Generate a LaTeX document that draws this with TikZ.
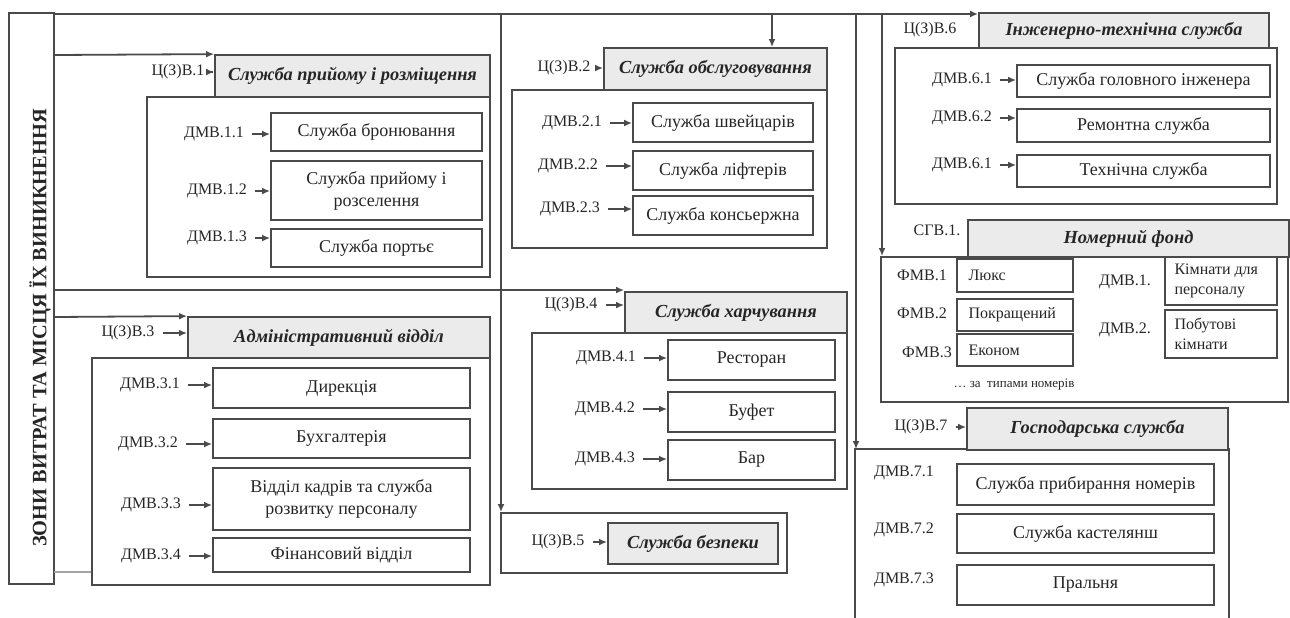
\documentclass[tikz,border=0pt]{standalone}
\usepackage{fontspec}
\setmainfont{Liberation Serif}
\usetikzlibrary{arrows.meta}
\definecolor{linec}{HTML}{4A4A4A}
\definecolor{textc}{HTML}{262626}
\definecolor{hdrc}{HTML}{EBEBEB}
\tikzset{
  box/.style = {draw=linec, line width=0.9pt, inner sep=0pt, align=center,
    text=textc, font=\fontsize{9}{11}\selectfont},% box of a place
  hdr/.style = {box, fill=hdrc,
    font=\fontsize{9.2}{11}\selectfont\bfseries\itshape},% header of a zone
  outer/.style = {draw=linec, line width=0.9pt, inner sep=0pt},
  lbl/.style = {text=textc, inner sep=1pt, font=\fontsize{8}{10}\selectfont},
  conn/.style = {draw=linec, line width=0.9pt, -{Latex[length=4pt,width=3.4pt]}},
  tick/.style = {conn, shorten <=3pt}
}
% box from corner (x1,y1) to corner (x2,y2), in pixels
\newcommand{\bx}[7]{%
  \node[#1, minimum width={(#5-#3)*0.5pt}, minimum height={(#6-#4)*0.5pt}]
    (#2) at ({(#3+#5)/2},{(#4+#6)/2}) {#7};}

\begin{document}
\begin{tikzpicture}[x=0.5pt,y=-0.5pt]
\useasboundingbox (0,0) rectangle (1290,617);

% zones
\bx{outer}{zone}{9}{13}{54}{584}{}
\node[rotate=90, text=textc, font=\fontsize{10.2}{12}\selectfont\bfseries]
  (zonetxt) at (40,328) {ЗОНИ ВИТРАТ ТА МІСЦЯ ЇХ ВИНИКНЕННЯ};

% 1
\bx{outer}{o1}{147}{97}{490}{277}{}
\bx{hdr}{h1}{215}{55}{490}{97}{Служба прийому і розміщення}
\bx{box}{b11}{271}{113}{482}{151}{Служба бронювання}
\bx{box}{b12}{271}{161}{482}{220}{Служба прийому і\\розселення}
\bx{box}{b13}{271}{229}{482}{267}{Служба портьє}
\node[lbl] (c1) at (178,72) {Ц(З)В.1};
\node[lbl] (l11) at (214,134) {ДМВ.1.1};
\node[lbl] (l12) at (217,191) {ДМВ.1.2};
\node[lbl] (l13) at (217,238) {ДМВ.1.3};

% 2
\bx{outer}{o2}{512}{90}{827}{248}{}
\bx{hdr}{h2}{604}{48}{827}{90}{Служба обслуговування}
\bx{box}{b21}{633}{103}{813}{142}{Служба швейцарів}
\bx{box}{b22}{633}{151}{813}{190}{Служба ліфтерів}
\bx{box}{b23}{633}{196}{813}{235}{Служба консьержна}
\node[lbl] (c2) at (564,68) {Ц(З)В.2};
\node[lbl] (l21) at (572,123) {ДМВ.2.1};
\node[lbl] (l22) at (568,166) {ДМВ.2.2};
\node[lbl] (l23) at (570,209) {ДМВ.2.3};

% 3
\bx{outer}{o3}{92}{358}{490}{585}{}
\bx{hdr}{h3}{188}{317}{490}{358}{Адміністративний відділ}
\bx{box}{b31}{213}{368}{470}{408}{Дирекція}
\bx{box}{b32}{213}{419}{470}{458}{Бухгалтерія}
\bx{box}{b33}{213}{468}{470}{530}{Відділ кадрів та служба\\розвитку персоналу}
\bx{box}{b34}{213}{538}{470}{572}{Фінансовий відділ}
\node[lbl] (c3) at (128,333) {Ц(З)В.3};
\node[lbl] (l31) at (150,385) {ДМВ.3.1};
\node[lbl] (l32) at (148,444) {ДМВ.3.2};
\node[lbl] (l33) at (151,505) {ДМВ.3.3};
\node[lbl] (l34) at (151,556) {ДМВ.3.4};

% 4
\bx{outer}{o4}{532}{333}{847}{489}{}
\bx{hdr}{h4}{625}{292}{847}{333}{Служба харчування}
\bx{box}{b41}{668}{340}{835}{380}{Ресторан}
\bx{box}{b42}{668}{392}{835}{432}{Буфет}
\bx{box}{b43}{668}{440}{835}{480}{Бар}
\node[lbl] (c4) at (571,305) {Ц(З)В.4};
\node[lbl] (l41) at (606,358) {ДМВ.4.1};
\node[lbl] (l42) at (605,409) {ДМВ.4.2};
\node[lbl] (l43) at (605,459) {ДМВ.4.3};

% 5
\bx{outer}{o5}{501}{513}{787}{573}{}
\bx{hdr}{h5}{608}{523}{778}{564}{Служба безпеки}
\node[lbl] (c5) at (558,542) {Ц(З)В.5};

% 6
\bx{outer}{o6}{895}{48}{1277}{204}{}
\bx{hdr}{h6}{979}{13}{1269}{48}{Інженерно-технічна служба}
\bx{box}{b61}{1017}{65}{1270}{97}{Служба головного інженера}
\bx{box}{b62}{1017}{109}{1270}{142}{Ремонтна служба}
\bx{box}{b63}{1017}{155}{1270}{187}{Технічна служба}
\node[lbl] (c6) at (930,30) {Ц(З)В.6};
\node[lbl] (l61) at (962,80) {ДМВ.6.1};
\node[lbl] (l62) at (962,118) {ДМВ.6.2};
\node[lbl] (l63) at (962,165) {ДМВ.6.1};

% room stock
\bx{outer}{of}{881}{257}{1288}{402}{}
\bx{hdr}{hf}{968}{220}{1289}{257}{Номерний фонд}
\bx{box}{f1}{957}{259}{1073}{292}{}
\bx{box}{f2}{957}{299}{1073}{331}{}
\bx{box}{f3}{957}{334}{1073}{366}{}
\node[lbl, anchor=west] (t1) at ([xshift=5pt]f1.west) {Люкс};
\node[lbl, anchor=west] (t2) at ([xshift=5pt]f2.west) {Покращений};
\node[lbl, anchor=west] (t3) at ([xshift=5pt]f3.west) {Економ};
\bx{box}{d1}{1165}{257}{1277}{305}{}
\bx{box}{d2}{1165}{310}{1277}{358}{}
\node[lbl, anchor=west, align=left] (td1) at ([xshift=4pt]d1.west) {Кімнати для\\персоналу};
\node[lbl, anchor=west, align=left] (td2) at ([xshift=4pt]d2.west) {Побутові\\кімнати};
\node[lbl] (cf) at (937,230) {СГВ.1.};
\node[lbl] (lf1) at (922,275) {ФМВ.1};
\node[lbl] (lf2) at (922,313) {ФМВ.2};
\node[lbl] (lf3) at (927,352) {ФМВ.3};
\node[lbl] (ld1) at (1125,282) {ДМВ.1.};
\node[lbl] (ld2) at (1125,330) {ДМВ.2.};
\node[lbl, font=\fontsize{6.5}{8}\selectfont] (note) at (1014,385) {\dots\ за \ типами номерів};

% 7
\bx{outer, draw=none}{o7}{856}{450}{1228}{625}{}
\draw[draw=linec, line width=0.9pt] (o7.south west) -- (o7.north west)
  -- (o7.north east) -- (o7.south east);
\bx{hdr}{h7}{967}{408}{1228}{450}{Господарська служба}
\bx{box}{b71}{957}{464}{1214}{505}{Служба прибирання номерів}
\bx{box}{b72}{957}{514}{1214}{553}{Служба кастелянш}
\bx{box}{b73}{957}{565}{1214}{605}{Пральня}
\node[lbl] (c7) at (921,427) {Ц(З)В.7};
\node[lbl] (l71) at (904,473) {ДМВ.7.1};
\node[lbl] (l72) at (904,530) {ДМВ.7.2};
\node[lbl] (l73) at (904,580) {ДМВ.7.3};

% main lines
\coordinate (j0) at (54,14);
\coordinate (j1) at (54,55);
\coordinate (j4) at (54,290);
\coordinate (j3) at (54,317);
\coordinate (j9) at (54,572);
\coordinate (v5) at (501,14);
\coordinate (v2) at (772,14);
\coordinate (v7) at (856,14);
\coordinate (vf) at (882,14);
\draw[conn] (j0) -- (h6.west |- j0);
\draw[conn] (j1) -- (h1.north west);
\draw[conn] (j4) -- (h4.west |- j4);
\draw[conn] (j3) -- (h3.north west);
\draw[draw=linec!50, line width=0.6pt] (j9) -- (o3.west |- j9);
\draw[conn] (v5) -- (v5 |- o5.north);
\draw[conn] (v2) -- (v2 |- h2.north);
\draw[conn] (v7) -- (v7 |- o7.north);
\draw[conn] (vf) -- (vf |- of.north);

% short arrows
\foreach \c/\h in {c1/h1,c2/h2,c3/h3,c4/h4,c5/h5,c7/h7}
  \draw[tick] (\c) -- (\h.west |- \c);
\foreach \l/\b in {l11/b11,l12/b12,l13/b13,l21/b21,l22/b22,l23/b23,
  l31/b31,l32/b32,l33/b33,l34/b34,l41/b41,l42/b42,l43/b43,
  l61/b61,l62/b62,l63/b63}
  \draw[tick] (\l) -- (\b.west |- \l);
\end{tikzpicture}
\end{document}
